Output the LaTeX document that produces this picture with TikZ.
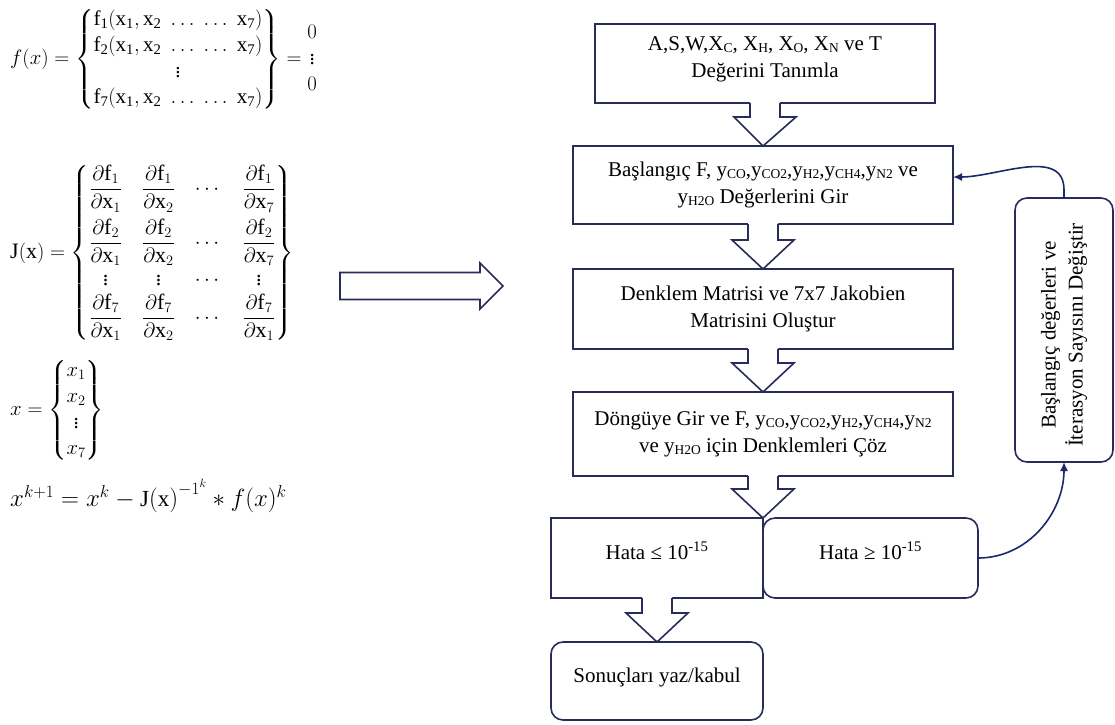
\documentclass[tikz,border=0pt]{standalone}
\usepackage{amsmath}
\usepackage{fontspec}
\setmainfont{Liberation Serif}
\usetikzlibrary{arrows.meta,calc}
\definecolor{navy}{RGB}{40,44,88}
\definecolor{connblue}{RGB}{28,40,105}
\newcommand\lw[1]{\raisebox{-0.2ex}{\fontsize{13.5}{14}\selectfont #1}}
\tikzset{
  box/.style={draw=navy, line width=1.6pt, fill=white, inner sep=0pt, outer sep=0pt,
    align=center, font=\fontsize{21}{27}\selectfont},
  rbox/.style={box, rounded corners=12pt},
  boxtext/.style={inner sep=0pt, align=center, font=\fontsize{21}{27}\selectfont},
  hightext/.style={text height=15pt, text depth=12pt},
  blockline/.style={draw=navy, line width=1.6pt, line join=miter},
  conn/.style={draw=connblue, line width=1.6pt, -{Latex[length=9pt,width=8pt]}},
  eq/.style={anchor=west, inner sep=0pt, font=\fontsize{21}{26}\selectfont}
}
\newcommand\blockdown[2]{%
  \fill[white] let \p1=(#1), \p2=(#2) in
    (\x1-15pt,\y1+1.5pt) -- (\x1-15pt,\y2+29pt) -- (\x1-31pt,\y2+29pt) -- (\x2,\y2)
    -- (\x1+31pt,\y2+29pt) -- (\x1+15pt,\y2+29pt) -- (\x1+15pt,\y1+1.5pt) -- cycle;
  \draw[blockline] let \p1=(#1), \p2=(#2) in
    (\x1-15pt,\y1) -- (\x1-15pt,\y2+29pt) -- (\x1-31pt,\y2+29pt) -- (\x2,\y2)
    -- (\x1+31pt,\y2+29pt) -- (\x1+15pt,\y2+29pt) -- (\x1+15pt,\y1);
}
\begin{document}
\begin{tikzpicture}[x=1pt,y=1pt]
\useasboundingbox (0,0) rectangle (1115,-724);

% ---------- left: equations ----------
\node[eq] (eqf) at (10,-59) {$\displaystyle f(x) = \left\{\begin{matrix}
  \mathrm{f_1(x_1, x_2\;\ldots\;\ldots\;x_7)}\\
  \mathrm{f_2(x_1, x_2\;\ldots\;\ldots\;x_7)}\\
  \vdots\\
  \mathrm{f_7(x_1, x_2\;\ldots\;\ldots\;x_7)}
  \end{matrix}\right\} = \begin{matrix}0\\ \vdots\\ 0\end{matrix}$};

\node[eq, font=\fontsize{22}{28}\selectfont] (eqj) at (10,-253) {$\displaystyle \mathrm{J(x)} = \left\{\setlength\arraycolsep{10pt}\begin{matrix}
  \dfrac{\partial \mathrm{f}_1}{\partial \mathrm{x}_1} & \dfrac{\partial \mathrm{f}_1}{\partial \mathrm{x}_2} & \cdots & \dfrac{\partial \mathrm{f}_1}{\partial \mathrm{x}_7}\\[16pt]
  \dfrac{\partial \mathrm{f}_2}{\partial \mathrm{x}_1} & \dfrac{\partial \mathrm{f}_2}{\partial \mathrm{x}_2} & \cdots & \dfrac{\partial \mathrm{f}_2}{\partial \mathrm{x}_7}\\[7pt]
  \vdots & \vdots & \cdots & \vdots\\[0pt]
  \dfrac{\partial \mathrm{f}_7}{\partial \mathrm{x}_1} & \dfrac{\partial \mathrm{f}_7}{\partial \mathrm{x}_2} & \cdots & \dfrac{\partial \mathrm{f}_7}{\partial \mathrm{x}_1}
  \end{matrix}\right\}$};

\node[eq] (eqx) at (10,-410) {$\displaystyle x = \left\{\begin{matrix} x_1\\ x_2\\ \vdots\\ x_7\end{matrix}\right\}$};

\node[eq, font=\fontsize{23}{28}\selectfont] (eqk) at (10,-496) {$x^{k+1} = x^k - \mathrm{J(x)}^{-1^k} * f(x)^k$};

% ---------- big hollow arrow ----------
\draw[blockline, fill=white] (340,-272.5) -- (480,-272.5) -- (480,-263) -- (503,-286)
  -- (480,-309) -- (480,-299.5) -- (340,-299.5) -- cycle;

% ---------- flowchart boxes ----------
\node[box, minimum width=340pt, minimum height=79pt] (b1) at (765,-63.5) {};
\node[boxtext] (b1t) at ([yshift=4pt]b1.center)
  {A,S,W,X\lw{C}, X\lw{H}, X\lw{O}, X\lw{N} ve T\\Değerini Tanımla};
\node[box, minimum width=380pt, minimum height=78pt] (b2) at (763,-185)
  {Başlangıç F, y\lw{CO},y\lw{CO2},y\lw{H2},y\lw{CH4},y\lw{N2} ve\\y\lw{H2O} Değerlerini Gir};
\node[box, minimum width=380pt, minimum height=80pt] (b3) at (763,-309)
  {Denklem Matrisi ve 7x7 Jakobien\\Matrisini Oluştur};
\node[box, minimum width=380pt, minimum height=84pt] (b4) at (763,-434)
  {Döngüye Gir ve F, y\lw{CO},y\lw{CO2},y\lw{H2},y\lw{CH4},y\lw{N2}\\ve y\lw{H2O} için Denklemleri Çöz};
\node[box, hightext, minimum width=212pt, minimum height=80pt] (b5) at (657,-558)
  {Hata ≤ 10\textsuperscript{-15}};
\node[rbox, hightext, minimum width=215pt, minimum height=80pt] (b6) at (870.5,-558)
  {Hata ≥ 10\textsuperscript{-15}};
\node[rbox, hightext, minimum width=212pt, minimum height=78pt] (b7) at (657,-681)
  {Sonuçları yaz/kabul};
\node[rbox, minimum width=98pt, minimum height=264pt] (b8) at (1064,-330) {};
\node[boxtext, rotate=90] (b8t) at ([yshift=-5pt]b8.center)
  {Başlangıç değerleri ve\\İterasyon Sayısını Değiştir};

% ---------- block arrows ----------
\blockdown{b1.south}{b2.north}
\blockdown{b2.south}{b3.north}
\blockdown{b3.south}{b4.north}
\blockdown{b4.south}{b4.south |- b5.north}
\blockdown{b5.south}{b7.north}

% ---------- connectors ----------
\draw[conn] (b6.east) to[out=0, in=-90] (b8.south);
\draw[conn] (b8.north) -- ++(0,8) to[out=90, in=0] ($(b2.east)+(0,8)$);
\end{tikzpicture}
\end{document}
